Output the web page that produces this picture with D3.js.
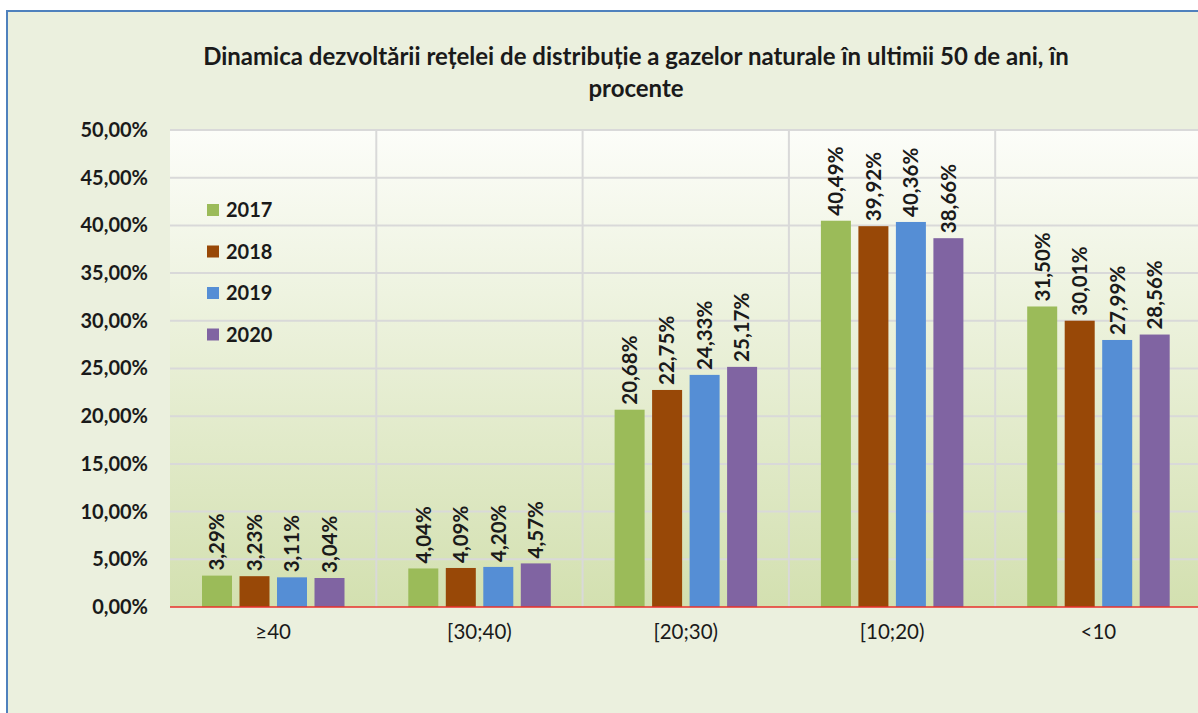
<!DOCTYPE html>
<html>
<head>
<meta charset="utf-8">
<script src="https://cdn.jsdelivr.net/npm/d3@7"></script>
<style>
  html, body { margin: 0; padding: 0; background: #ffffff; }
  svg { display: block; font-family: Lato, "Open Sans", sans-serif; }
</style>
</head>
<body>
<div id="chart"></div>
<script>
const categories = ['≥40', '[30;40)', '[20;30)', '[10;20)', '<10'];
const years = ['2017', '2018', '2019', '2020'];
const values2017 = [3.29, 4.04, 20.68, 40.49, 31.50];
const values2018 = [3.23, 4.09, 22.75, 39.92, 30.01];
const values2019 = [3.11, 4.20, 24.33, 40.36, 27.99];
const values2020 = [3.04, 4.57, 25.17, 38.66, 28.56];
const yTicks = [0, 5, 10, 15, 20, 25, 30, 35, 40, 45, 50];
const colors = ['#9bbb59', '#984807', '#558ed5', '#8064a2'];
const titleLines = ['Dinamica dezvoltării rețelei de distribuție a gazelor naturale în ultimii 50 de ani, în', 'procente'];

const series = [values2017, values2018, values2019, values2020];

const width = 1198, height = 713;
const plot = { left: 170, right: 1200, top: 130, bottom: 607 };

const fmt = v => v.toFixed(2).replace('.', ',') + '%';

const svg = d3.select('#chart')
  .append('svg')
  .attr('width', width)
  .attr('height', height);

const defs = svg.append('defs');
const grad = defs.append('linearGradient')
  .attr('id', 'plotGrad')
  .attr('x1', 0).attr('y1', 0).attr('x2', 0).attr('y2', 1);
grad.append('stop').attr('offset', '0%').attr('stop-color', '#fcfdf9');
grad.append('stop').attr('offset', '100%').attr('stop-color', '#d3e0b0');

// chart area + frame
svg.append('rect')
  .attr('x', 7).attr('y', 11)
  .attr('width', width).attr('height', height)
  .attr('fill', '#ebf0de')
  .attr('stroke', '#4f81bd')
  .attr('stroke-width', 2);

svg.append('rect')
  .attr('x', plot.left).attr('y', plot.top)
  .attr('width', plot.right - plot.left).attr('height', plot.bottom - plot.top)
  .attr('fill', 'url(#plotGrad)');

const x0 = d3.scaleBand()
  .domain(categories)
  .range([plot.left, plot.left + 5 * 206.3])
  .padding(0);

const x1 = d3.scaleBand()
  .domain(years)
  .range([32, 32 + 142.5])
  .paddingInner(0.2)
  .paddingOuter(0);

const y = d3.scaleLinear()
  .domain([0, 50])
  .range([plot.bottom, plot.top]);

// gridlines
svg.append('g')
  .selectAll('line')
  .data(yTicks.filter(t => t > 0))
  .enter()
  .append('line')
  .attr('x1', plot.left).attr('x2', plot.right)
  .attr('y1', d => y(d)).attr('y2', d => y(d))
  .attr('stroke', '#d9d9d9')
  .attr('stroke-width', 2);

svg.append('g')
  .selectAll('line')
  .data(categories.slice(1))
  .enter()
  .append('line')
  .attr('x1', d => x0(d)).attr('x2', d => x0(d))
  .attr('y1', plot.top).attr('y2', plot.bottom)
  .attr('stroke', '#d9d9d9')
  .attr('stroke-width', 2);

// y axis
const yAxis = svg.append('g')
  .attr('transform', `translate(${plot.left}, 0)`)
  .call(d3.axisLeft(y).tickValues(yTicks).tickFormat(fmt).tickSize(0).tickPadding(22));
yAxis.select('.domain').remove();
yAxis.selectAll('text')
  .attr('font-size', 20)
  .attr('font-weight', 'bold')
  .attr('fill', '#1a1a1a')
  .attr('font-family', 'Lato, sans-serif');

// x axis
const xAxis = svg.append('g')
  .attr('transform', `translate(0, ${plot.bottom})`)
  .call(d3.axisBottom(x0).tickSize(0).tickPadding(17));
xAxis.select('.domain').remove();
xAxis.selectAll('text')
  .attr('font-size', 20.5)
  .attr('fill', '#1a1a1a')
  .attr('font-family', 'Lato, sans-serif');

// bars
const rows = categories.map((c, i) => ({
  category: c,
  bars: years.map((yr, j) => ({ year: yr, value: series[j][i], color: colors[j] }))
}));

const groups = svg.append('g')
  .selectAll('g')
  .data(rows)
  .enter()
  .append('g')
  .attr('transform', d => `translate(${x0(d.category)}, 0)`);

groups.selectAll('rect')
  .data(d => d.bars)
  .enter()
  .append('rect')
  .attr('x', d => x1(d.year))
  .attr('y', d => y(d.value))
  .attr('width', x1.bandwidth())
  .attr('height', d => y(0) - y(d.value))
  .attr('fill', d => d.color);

groups.selectAll('text')
  .data(d => d.bars)
  .enter()
  .append('text')
  .attr('transform', d => `translate(${x1(d.year) + x1.bandwidth() / 2}, ${y(d.value) - 5}) rotate(-90)`)
  .attr('dy', '0.36em')
  .attr('text-anchor', 'start')
  .attr('font-size', 20.5)
  .attr('font-weight', 'bold')
  .attr('fill', '#1a1a1a')
  .text(d => fmt(d.value));

// baseline
svg.append('line')
  .attr('x1', plot.left).attr('x2', plot.right)
  .attr('y1', plot.bottom).attr('y2', plot.bottom)
  .attr('stroke', '#e8312b')
  .attr('stroke-width', 1.5);

// legend
const legend = svg.append('g')
  .selectAll('g')
  .data(years)
  .enter()
  .append('g')
  .attr('transform', (d, i) => `translate(207, ${210 + i * 41.5})`);

legend.append('rect')
  .attr('x', 0).attr('y', -6)
  .attr('width', 12).attr('height', 12)
  .attr('fill', (d, i) => colors[i]);

legend.append('text')
  .attr('x', 19)
  .attr('dy', '0.36em')
  .attr('font-size', 20)
  .attr('font-weight', 'bold')
  .attr('fill', '#1a1a1a')
  .text(d => d);

// title
svg.append('g')
  .selectAll('text')
  .data(titleLines)
  .enter()
  .append('text')
  .attr('x', 636)
  .attr('y', (d, i) => 56 + i * 32)
  .attr('dy', '0.36em')
  .attr('text-anchor', 'middle')
  .attr('font-size', 24)
  .attr('font-weight', 'bold')
  .attr('fill', '#1a1a1a')
  .text(d => d);
</script>
</body>
</html>
